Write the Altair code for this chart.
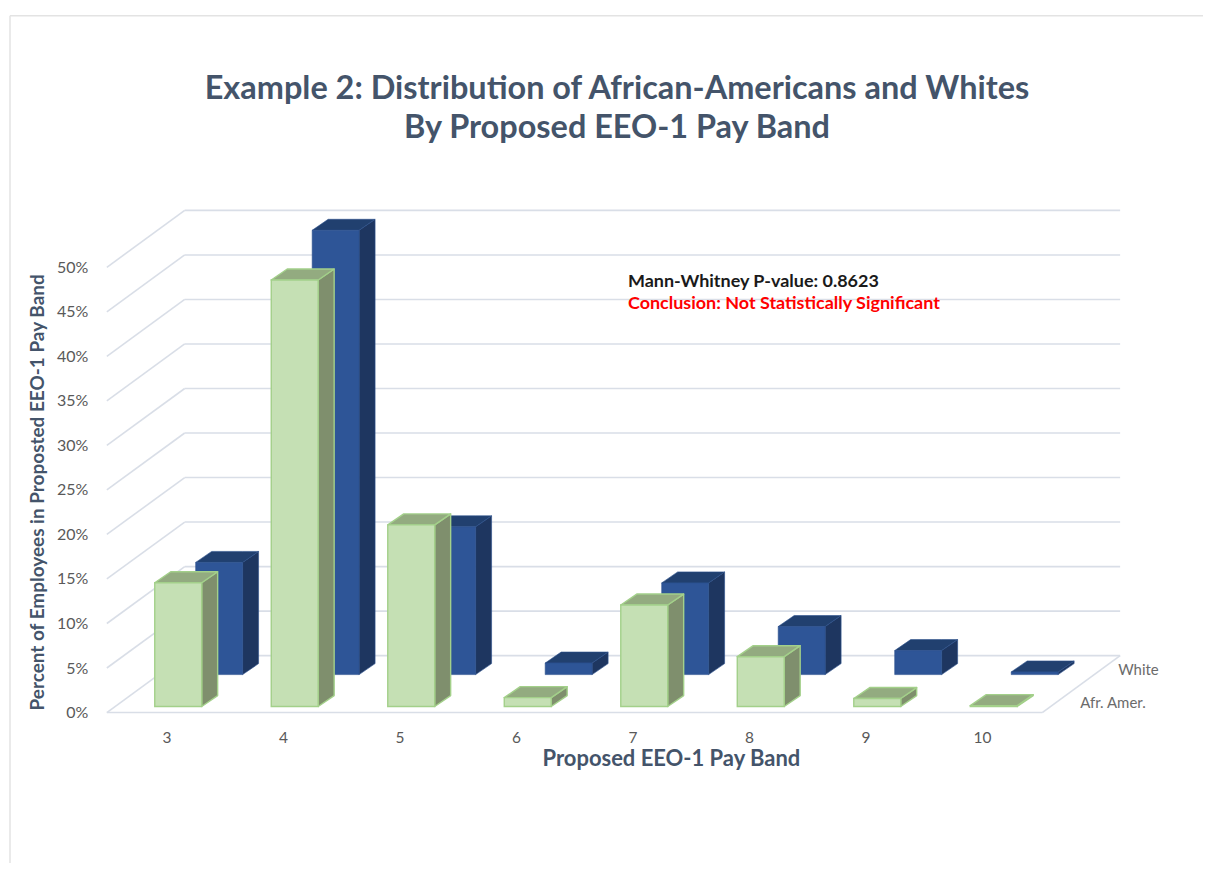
import altair as alt
import pandas as pd

# ---------------- data ----------------
bands = [3, 4, 5, 6, 7, 8, 9, 10]
afr_amer = [13.9, 47.9, 20.4, 1.0, 11.4, 5.6, 0.9, 0.1]
white = [12.6, 49.9, 16.6, 1.3, 10.3, 5.4, 2.7, 0.3]
y_ticks = [0, 5, 10, 15, 20, 25, 30, 35, 40, 45, 50]
series = ["White", "Afr. Amer."]
title_lines = ["Example 2: Distribution of African-Americans and Whites",
               "By Proposed EEO-1 Pay Band"]
note_lines = ["Mann-Whitney P-value: 0.8623", "Conclusion: Not Statistically Significant"]

# ---------------- geometry (pseudo-3D styling) ----------------
PLOT_W, PLOT_H = 1018, 506
PX_X = 116.7            # pixels per band unit
PX_Y = PLOT_H / 56.73   # pixels per percent point
W = 47 / PX_X           # bar face width
DX, DY = 16 / PX_X, 11 / PX_Y          # bar depth
X0 = 3 - 48 / PX_X                      # floor front-left corner
XMAX = X0 + PLOT_W / PX_X
WALL_DX, WALL_DY = 78 / PX_X, 57 / PX_Y  # wall depth
XR = X0 + 1015 / PX_X                   # back-right end of wall
XF = XR - WALL_DX                       # floor front-right corner
YMAX = PLOT_H / PX_Y

row_style = {
    "White": dict(vals=white, off=41 / PX_X, base=38 / PX_Y,
                  front="#2e5597", top="#21406f", side="#1e3660", stroke="#2a4f8c"),
    "Afr. Amer.": dict(vals=afr_amer, off=0.0, base=6 / PX_Y,
                       front="#c5e0b4", top="#93ab80", side="#7f8f6d", stroke="#a3d08a"),
}

FONT = "Lato"
TXT = "#44546a"

xs = alt.Scale(domain=[X0, XMAX], nice=False, zero=False)
ys = alt.Scale(domain=[0, YMAX], nice=False, zero=False)
x_axis = alt.Axis(
    values=[b + 0.1 for b in bands], labelExpr="floor(datum.value)",
    title="Proposed EEO-1 Pay Band", titleFont=FONT, titleFontSize=22,
    titleFontWeight="bold", titleColor=TXT, titleX=565, titleY=46,
    titleAlign="center", titleBaseline="middle",
    labelFont=FONT, labelFontSize=15.5, labelColor="#595959",
    labelPadding=18, ticks=False, domain=False, grid=False)
y_axis = alt.Axis(
    values=y_ticks, labelExpr="datum.value + '%'",
    title="Percent of Employees in Proposted EEO-1 Pay Band",
    titleFont=FONT, titleFontSize=19, titleFontWeight="bold", titleColor=TXT,
    titleX=-69, titleY=285, titleAlign="center", titleBaseline="middle", titleAngle=270,
    labelFont=FONT, labelFontSize=16, labelColor="#595959",
    labelPadding=19, ticks=False, domain=False, grid=False)


def X():
    return alt.X("x:Q", scale=xs, axis=x_axis)


def Y():
    return alt.Y("y:Q", scale=ys, axis=y_axis)


# ---------------- walls / gridlines ----------------
GRID = "#d9dee7"
back = pd.DataFrame({"x": X0 + WALL_DX, "x2": XR,
                     "y": [t + WALL_DY for t in y_ticks]})
side_wall = pd.DataFrame({"x": X0, "x2": X0 + WALL_DX, "y": y_ticks,
                          "y2": [t + WALL_DY for t in y_ticks]})
floor = pd.DataFrame({"x": [X0, XF], "x2": [XF, XR], "y": [0, 0], "y2": [0, WALL_DY]})

wall_layer = alt.Chart(side_wall).mark_rule(color=GRID, strokeWidth=1.6).encode(
    x=X(), x2="x2:Q", y=Y(), y2="y2:Q")
back_layer = alt.Chart(back).mark_rule(color=GRID, strokeWidth=1.6).encode(
    x=X(), x2="x2:Q", y=Y())
floor_layer = alt.Chart(floor).mark_rule(color=GRID, strokeWidth=1.6).encode(
    x=X(), x2="x2:Q", y=Y(), y2="y2:Q")

# ---------------- 3D bars ----------------
bar_layers = []
for name in series:
    st = row_style[name]
    fronts, sides, tops = [], [], []
    for c, v in zip(bands, st["vals"]):
        x0 = c + st["off"]
        x1 = x0 + W
        b = st["base"]
        fronts.append({"id": c, "x": x0, "x2": x1, "y": b, "y2": b + v})
        sides += [{"id": c, "x": x1, "y": b, "y2": b + v},
                  {"id": c, "x": x1 + DX, "y": b + DY, "y2": b + v + DY}]
        tops += [{"id": c, "x": x0, "y": b + v, "y2": b + v},
                 {"id": c, "x": x0 + DX, "y": b + v, "y2": b + v + DY},
                 {"id": c, "x": x1, "y": b + v, "y2": b + v + DY},
                 {"id": c, "x": x1 + DX, "y": b + v + DY, "y2": b + v + DY}]
    sw = 1.4 if name == "Afr. Amer." else 0.6
    side_l = alt.Chart(pd.DataFrame(sides)).mark_area(
        orient="vertical", color=st["side"], stroke=st["stroke"], strokeWidth=sw,
        strokeJoin="round").encode(x=X(), y=Y(), y2="y2:Q", detail="id:N")
    top_l = alt.Chart(pd.DataFrame(tops)).mark_area(
        orient="vertical", color=st["top"], stroke=st["stroke"], strokeWidth=sw,
        strokeJoin="round").encode(x=X(), y=Y(), y2="y2:Q", detail="id:N")
    front_l = alt.Chart(pd.DataFrame(fronts)).mark_rect(
        color=st["front"], stroke=st["stroke"], strokeWidth=sw).encode(
        x=X(), x2="x2:Q", y=Y(), y2="y2:Q")
    bar_layers += [side_l, top_l, front_l]

# ---------------- texts ----------------
one = pd.DataFrame({"k": [0]})


def label(text, x, y, size, color, weight="normal", align="left"):
    return alt.Chart(one).mark_text(
        align=align, baseline="middle", font=FONT, fontSize=size, fontWeight=weight,
        color=color, text=text).encode(x=alt.value(x), y=alt.value(y))


texts = [
    label(title_lines[0], 511, -119, 32.5, TXT, "bold", "center"),
    label(title_lines[1], 511, -79, 32.5, TXT, "bold", "center"),
    label(note_lines[0], 522, 75, 18, "#1a1a1a", "bold"),
    label(note_lines[1], 522, 97, 18, "#ff0000", "bold"),
    label(series[0], 1013, 463, 15, "#6b6b6b"),
    label(series[1], 975, 496, 15, "#6b6b6b"),
]

frame = alt.Chart(one).mark_rule(color="#e3e3e3", strokeWidth=1.5).encode(
    x=alt.value(-97), x2=alt.value(1110), y=alt.value(-192))
frame2 = alt.Chart(one).mark_rule(color="#e3e3e3", strokeWidth=1.5).encode(
    x=alt.value(-97), y=alt.value(-192), y2=alt.value(700))

chart = alt.layer(wall_layer, back_layer, floor_layer, *bar_layers,
                  *texts, frame, frame2).properties(
    width=PLOT_W, height=PLOT_H,
    view=alt.ViewBackground(stroke="transparent", strokeWidth=0),
    autosize=alt.AutoSizeParams(type="none"),
    padding={"left": 99, "top": 199, "right": 80, "bottom": 150},
).configure_view(strokeWidth=0, stroke="transparent").configure(background="white")

chart.save("out.html", embed_options={"renderer": "svg", "actions": False})
